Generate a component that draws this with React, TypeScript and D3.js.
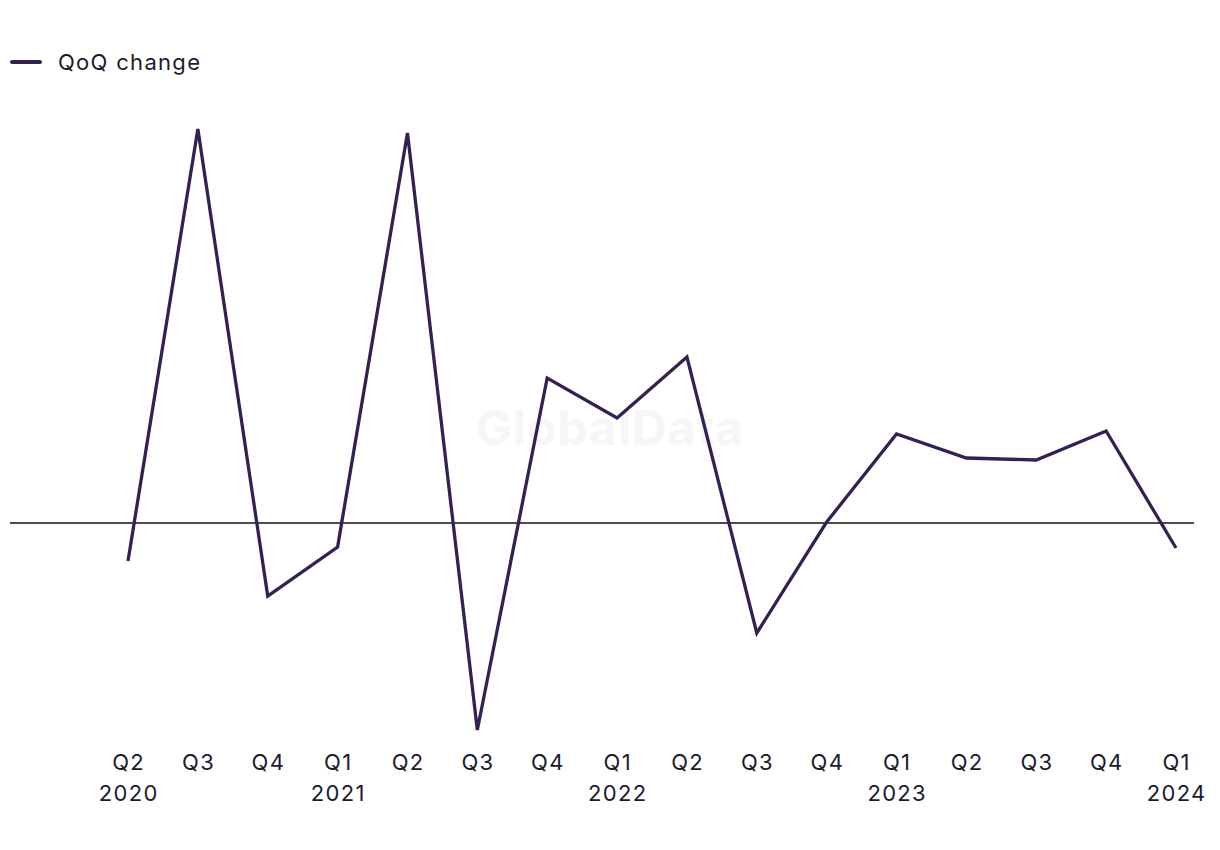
import React from "react";
import * as d3 from "d3";

const quarters = ["Q2", "Q3", "Q4", "Q1", "Q2", "Q3", "Q4", "Q1", "Q2", "Q3", "Q4", "Q1", "Q2", "Q3", "Q4", "Q1"];
const years = ["2020", "", "", "2021", "", "", "", "2022", "", "", "", "2023", "", "", "", "2024"];
const qoqChange = [-3.8, 39.4, -7.3, -2.4, 39.0, -20.7, 14.5, 10.5, 16.6, -11.0, 0.1, 8.9, 6.5, 6.3, 9.2, -2.5];
const seriesName = "QoQ change";

const W = 1220;
const H = 850;

export default function App() {
  const idx = qoqChange.map((_, i) => i);
  const x = d3.scalePoint<number>().domain(idx).range([128, 1176]);
  const ext = d3.extent(qoqChange) as [number, number];
  const y = d3.scaleLinear().domain(ext).range([730, 129]);
  const line = d3
    .line<number>()
    .x((_, i) => x(i) as number)
    .y((d) => y(d));
  const font = "Inter, 'Noto Sans', sans-serif";
  const textColor = "#1c1b2e";
  const lineColor = "#35214f";
  const fs = 22;
  const ls = 1.3;
  return (
    <svg
      width={W}
      height={H}
      style={{ position: "absolute", left: 0, top: 0, display: "block" }}
      fontFamily={font}
    >
      <rect width={W} height={H} fill="#ffffff" />
      <text
        x={610}
        y={427}
        textAnchor="middle"
        dominantBaseline="central"
        fontSize={48}
        fontWeight={700}
        letterSpacing={1}
        fill="#f6f6f6"
      >
        GlobalData
      </text>
      <line x1={12} x2={40} y1={62} y2={62} stroke={lineColor} strokeWidth={4} strokeLinecap="round" />
      <text x={58} y={62} dominantBaseline="central" fontSize={fs} letterSpacing={ls} fill={textColor}>
        {seriesName}
      </text>
      <line x1={10} x2={1194} y1={y(0)} y2={y(0)} stroke="#111111" strokeWidth={1.5} />
      <path d={line(qoqChange) || ""} fill="none" stroke={lineColor} strokeWidth={3.3} strokeLinejoin="miter" />
      {quarters.map((q, i) => (
        <g key={i} transform={`translate(${x(i)},0)`}>
          <text x={ls / 2} y={762} textAnchor="middle" dominantBaseline="central" fontSize={fs} letterSpacing={ls} fill={textColor}>
            {q}
          </text>
          {years[i] && (
            <text x={ls / 2} y={793} textAnchor="middle" dominantBaseline="central" fontSize={fs} letterSpacing={ls} fill={textColor}>
              {years[i]}
            </text>
          )}
        </g>
      ))}
    </svg>
  );
}
